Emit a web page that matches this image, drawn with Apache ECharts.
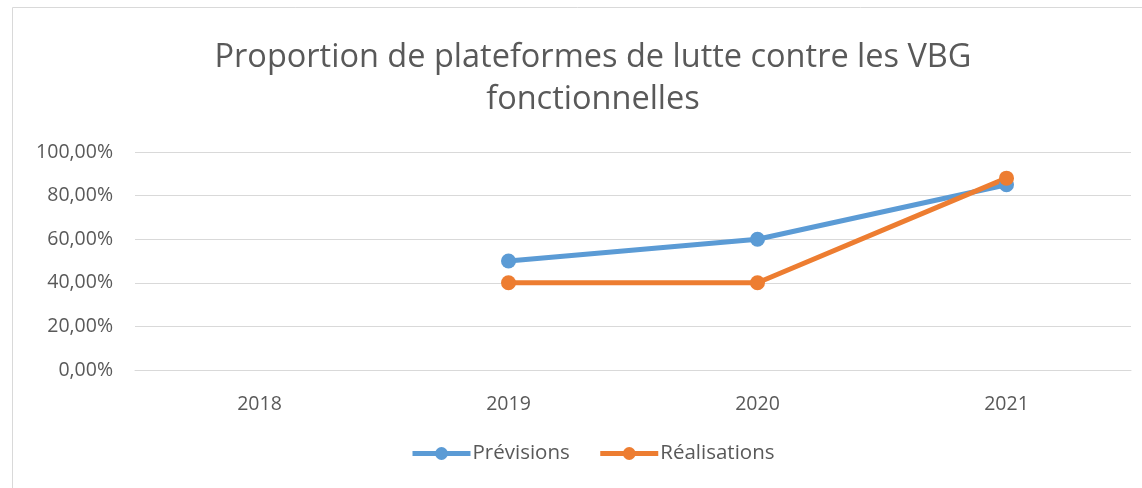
<!DOCTYPE html>
<html lang="fr">
<head>
    <meta charset="UTF-8">
    <title>Proportion de plateformes de lutte contre les VBG fonctionnelles</title>
    <script src="https://cdn.jsdelivr.net/npm/echarts@6.0.0/dist/echarts.min.js"></script>
    <style>
        html, body { margin: 0; padding: 0; background: #fff; }
    </style>
</head>
<body>
    <div id="chart" style="width: 1142px; height: 488px;"></div>

    <script>
        var annees = ['2018', '2019', '2020', '2021'];
        var previsions = [null, 50, 60, 85];
        var realisations = [null, 40, 40, 88];

        var police = 'Open Sans';
        var chart = echarts.init(document.getElementById('chart'));

        chart.setOption({
            animation: false,
            textStyle: { fontFamily: police },
            graphic: [{
                type: 'rect',
                shape: { x: 12.5, y: 7.5, width: 1140, height: 490 },
                style: { fill: 'none', stroke: '#d9d9d9', lineWidth: 1 }
            }],
            title: {
                text: 'Proportion de plateformes de lutte contre les VBG\nfonctionnelles',
                left: 588,
                textAlign: 'center',
                top: 32,
                textStyle: {
                    fontFamily: police,
                    fontSize: 32.5,
                    fontWeight: 'normal',
                    color: '#595959',
                    lineHeight: 42
                }
            },
            legend: {
                bottom: 19,
                left: 405,
                itemWidth: 58,
                itemHeight: 16,
                itemGap: 28,
                lineStyle: { width: 5 },
                textStyle: { fontSize: 20.5, color: '#595959', fontFamily: police, padding: [0, 0, 0, -3] },
                data: ['Prévisions', 'Réalisations']
            },
            grid: { left: 135, right: 11, top: 152, bottom: 118 },
            xAxis: {
                type: 'category',
                data: annees,
                axisLine: { lineStyle: { color: '#d9d9d9', width: 1 } },
                axisTick: { show: false },
                axisLabel: { fontSize: 19.5, color: '#595959', margin: 24 }
            },
            yAxis: {
                type: 'value',
                min: 0,
                max: 100,
                interval: 20,
                axisLine: { show: false },
                axisTick: { show: false },
                splitLine: { lineStyle: { color: '#d9d9d9', width: 1 } },
                axisLabel: {
                    fontSize: 19.5,
                    color: '#595959',
                    margin: 22,
                    formatter: function (v) { return v.toFixed(2).replace('.', ',') + '%'; }
                }
            },
            series: [{
                name: 'Prévisions',
                type: 'line',
                data: previsions,
                symbol: 'circle',
                symbolSize: 15,
                lineStyle: { width: 5, color: '#5b9bd5' },
                itemStyle: { color: '#5b9bd5' }
            }, {
                name: 'Réalisations',
                type: 'line',
                data: realisations,
                symbol: 'circle',
                symbolSize: 15,
                lineStyle: { width: 5, color: '#ed7d31' },
                itemStyle: { color: '#ed7d31' }
            }]
        });
    </script>
</body>
</html>
